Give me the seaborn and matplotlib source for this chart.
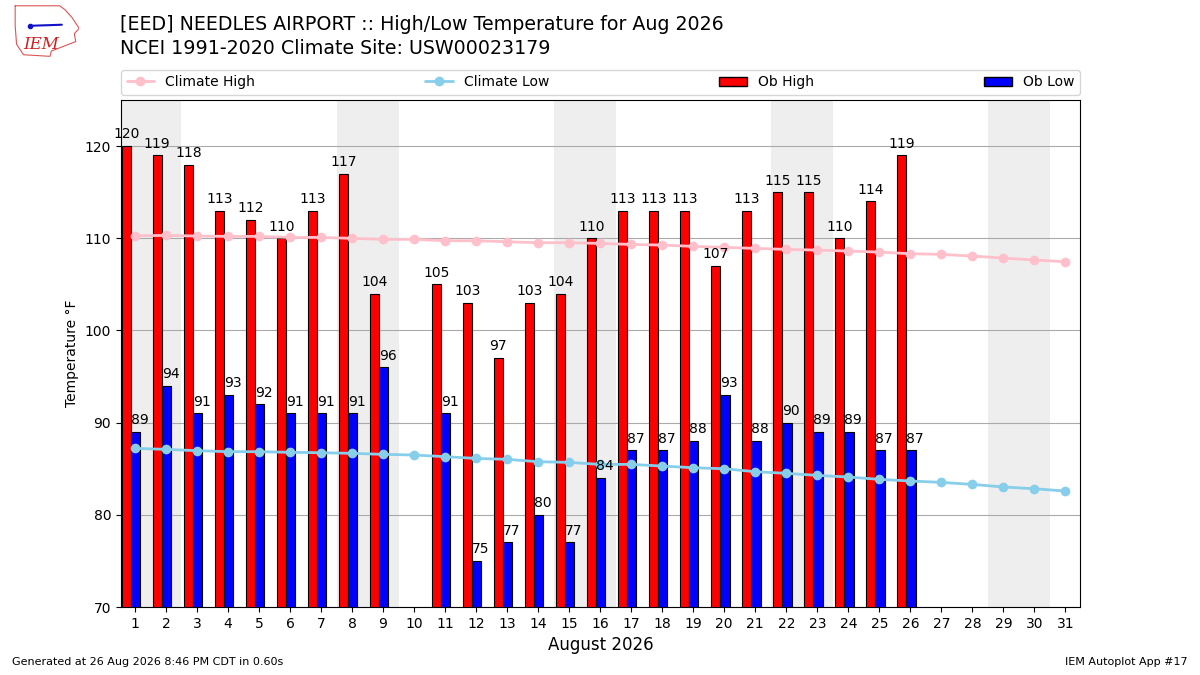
import numpy as np
import pandas as pd
import matplotlib
matplotlib.use("Agg")
import matplotlib.pyplot as plt
import seaborn as sns
from matplotlib.patches import Patch
from matplotlib.lines import Line2D

# observed values for Aug 2026 (None = missing)
days = list(range(1, 32))
ob_high = [120, 119, 118, 113, 112, 110, 113, 117, 104, None, 105, 103, 97, 103, 104,
           110, 113, 113, 113, 107, 113, 115, 115, 110, 114, 119,
           None, None, None, None, None]
ob_low = [89, 94, 91, 93, 92, 91, 91, 91, 96, None, 91, 75, 77, 80, 77,
          84, 87, 87, 88, 93, 88, 90, 89, 89, 87, 87,
          None, None, None, None, None]
# NCEI 1991-2020 daily normals
clim_high = [110.27, 110.31, 110.24, 110.20, 110.20, 110.09, 110.09, 109.99, 109.88, 109.88,
             109.73, 109.73, 109.62, 109.52, 109.52, 109.44, 109.33, 109.26, 109.12, 109.01,
             108.90, 108.79, 108.72, 108.61, 108.50, 108.32, 108.25, 108.07, 107.85, 107.64,
             107.45]
clim_low = [87.21, 87.10, 86.96, 86.85, 86.85, 86.78, 86.74, 86.67, 86.56, 86.49,
            86.31, 86.12, 86.02, 85.76, 85.69, 85.47, 85.47, 85.29, 85.11, 85.00,
            84.68, 84.50, 84.28, 84.10, 83.85, 83.67, 83.52, 83.30, 83.02, 82.83,
            82.58]
weekend_starts = [1, 8, 15, 22, 29]

df = pd.DataFrame({
    "day": days,
    "ob_high": [np.nan if v is None else v for v in ob_high],
    "ob_low": [np.nan if v is None else v for v in ob_low],
    "clim_high": clim_high,
    "clim_low": clim_low,
})

sns.set_style("ticks")
plt.rcParams["font.family"] = ["DejaVu Sans"]
plt.rcParams.update({
    "text.color": "black",
    "axes.labelcolor": "black",
    "xtick.color": "black",
    "ytick.color": "black",
})

fig = plt.figure(figsize=(12, 6.75), dpi=100)
ax = fig.add_axes([0.1008, 0.1007, 0.7992, 0.7512])

for d in weekend_starts:
    ax.axvspan(d - 0.5, d + 1.5, color="#eeeeee", zorder=0, lw=0)

ax.bar(df["day"] - 0.28, df["ob_high"], width=0.3, color="red", edgecolor="k",
       linewidth=0.8, zorder=2)
ax.bar(df["day"] + 0.02, df["ob_low"], width=0.3, color="blue", edgecolor="k",
       linewidth=0.8, zorder=2)

for _, r in df.iterrows():
    if not np.isnan(r["ob_high"]):
        ax.text(r["day"] - 0.28, r["ob_high"] + 0.5, f"{int(r['ob_high'])}",
                ha="center", va="bottom", fontsize=10, zorder=4)
    if not np.isnan(r["ob_low"]):
        ax.text(r["day"] + 0.15, r["ob_low"] + 0.5, f"{int(r['ob_low'])}",
                ha="center", va="bottom", fontsize=10, zorder=4)

sns.lineplot(data=df, x="day", y="clim_high", ax=ax, color="pink", lw=2,
             marker="o", markersize=7, markeredgewidth=0, zorder=3)
sns.lineplot(data=df, x="day", y="clim_low", ax=ax, color="skyblue", lw=2,
             marker="o", markersize=7, markeredgewidth=0, zorder=3)

ax.set_xlim(0.55, 31.47)
ax.set_ylim(70, 125)
ax.set_xticks(days)
ax.set_yticks(range(70, 121, 10))
ax.tick_params(labelsize=10, color="black")
ax.grid(axis="y", color="#aaaaaa", lw=0.8)
ax.set_axisbelow(True)
ax.set_xlabel("August 2026", fontsize=12)
ax.set_ylabel("Temperature \u00b0F", fontsize=10)
for s in ax.spines.values():
    s.set_visible(True)
    s.set_color("k")

handles = [
    Line2D([], [], color="pink", lw=2, marker="o", markersize=7, markeredgewidth=0),
    Line2D([], [], color="skyblue", lw=2, marker="o", markersize=7, markeredgewidth=0),
    Patch(facecolor="red", edgecolor="k"),
    Patch(facecolor="blue", edgecolor="k"),
]
ax.legend(handles, ["Climate High", "Climate Low", "Ob High", "Ob Low"],
          ncol=4, mode="expand", loc="lower left",
          bbox_to_anchor=(0, 1.01, 1, 0.05), fontsize=10, borderaxespad=0)

fig.text(0.1, 0.964, "[EED] NEEDLES AIRPORT :: High/Low Temperature for Aug 2026",
         fontsize=13.7, va="center")
fig.text(0.1, 0.928, "NCEI 1991-2020 Climate Site: USW00023179",
         fontsize=13.7, va="center")

# rough IEM logo
logo = fig.add_axes([0.008, 0.915, 0.058, 0.078])
logo.set_xlim(0, 1)
logo.set_ylim(0, 1)
logo.axis("off")
logo.plot([0.08, 0.72, 0.8, 0.9, 1.0, 0.93, 0.95, 0.6, 0.58, 0.2, 0.1, 0.08, 0.08],
          [0.98, 0.98, 0.9, 0.75, 0.55, 0.45, 0.3, 0.12, 0.02, 0.05, 0.25, 0.6, 0.98],
          color="#dd5555", lw=0.8)
logo.plot([0.3, 0.75], [0.6, 0.62], color="#1111cc", lw=1.5)
logo.plot([0.3], [0.6], "o", color="#1111cc", ms=3)
logo.text(0.45, 0.25, "IEM", color="#cc2222", fontsize=12, family="serif",
          style="italic", ha="center", va="center")

fig.text(0.01, 0.015, "Generated at 26 Aug 2026 8:46 PM CDT in 0.60s", fontsize=8)
fig.text(0.99, 0.015, "IEM Autoplot App #17", fontsize=8, ha="right")

fig.savefig("out.png", dpi=100)
